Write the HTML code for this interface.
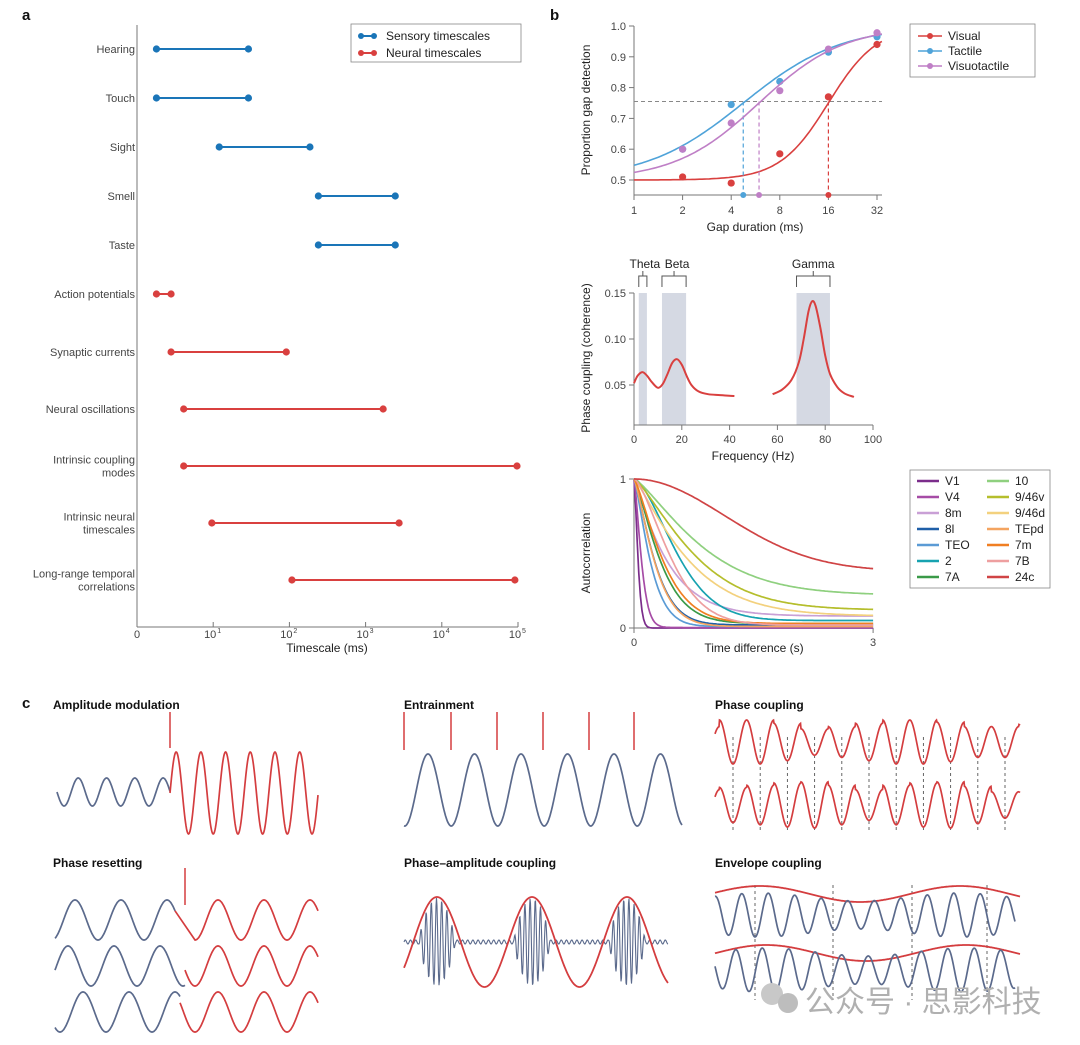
<!DOCTYPE html>
<html><head><meta charset="utf-8">
<style>
html,body{margin:0;padding:0;background:#fff;}
svg{display:block;font-family:"Liberation Sans","Noto Sans CJK SC",sans-serif;}
</style></head>
<body>
<svg id="fig" width="1080" height="1045" viewBox="0 0 1080 1045" xmlns="http://www.w3.org/2000/svg"></svg>
<script>
// ---------- Panel a data ----------
const aCats=['Hearing','Touch','Sight','Smell','Taste','Action potentials','Synaptic currents','Neural oscillations','Intrinsic coupling|modes','Intrinsic neural|timescales','Long-range temporal|correlations'];
const aLow=[1.8,1.8,12,240,240,1.8,2.8,4.1,4.1,9.6,108];
const aHigh=[29,29,186,2450,2450,2.8,91,1700,97000,2750,91000];
const aType=['s','s','s','s','s','n','n','n','n','n','n'];
const aTickExp=[0,1,2,3,4,5];
// ---------- Panel b top data ----------
const gapX=[2,4,8,16,32];
const gapVisual=[0.51,0.49,0.585,0.77,0.94];
const gapTactile=[0.60,0.745,0.82,0.915,0.965];
const gapVisuo=[0.60,0.685,0.79,0.925,0.978];
const gapThresh=[16,4.75,5.95];
const gapSlope=[0.5,1.0,0.87];
const gapXTicks=[1,2,4,8,16,32];
const gapYTicks=[0.5,0.6,0.7,0.8,0.9,1.0];
// ---------- Panel b middle data ----------
const cohFreq1=[0,1.5,3.5,5.5,7.5,10,12,14,16,18,20,22,24,27,31,36,42];
const cohVal1=[0.052,0.060,0.064,0.060,0.053,0.047,0.051,0.062,0.074,0.078,0.072,0.060,0.050,0.043,0.040,0.039,0.038];
const cohFreq2=[58,62,66,69,71,73,74.5,76,78,80,82,85,88,92];
const cohVal2=[0.040,0.045,0.056,0.075,0.100,0.130,0.141,0.136,0.112,0.082,0.062,0.048,0.041,0.037];
const bandLo=[2,11.7,68];
const bandHi=[5.4,21.8,82];
const bandNames=['Theta','Beta','Gamma'];
const cohXTicks=[0,20,40,60,80,100];
const cohYTicks=[0.05,0.10,0.15];
// ---------- Panel b bottom data ----------
const acNames=['V1','V4','8m','8l','TEO','2','7A','10','9/46v','9/46d','TEpd','7m','7B','24c'];
const acTau=[0.06,0.11,0.45,0.3,0.24,0.65,0.38,0.95,0.85,0.75,0.3,0.42,0.55,1.6];
const acBase=[0,0.003,0.08,0.02,0.01,0.05,0.03,0.22,0.12,0.08,0.01,0.03,0.02,0.38];
const acPow=[1.5,1.4,1.1,1.3,1.3,1.6,1.3,1.3,1.3,1.2,1.3,1.3,1.5,2];
const acColors=['#7b2d8b','#a64ca6','#c9a0d6','#1f5fa8','#5b9bd5','#17a2b0','#3a9a48','#8fd07f','#b5be2c','#f3d17e','#f4a460','#f07f22','#ee9fa0','#d04445'];

const NS='http://www.w3.org/2000/svg';
const svg=document.getElementById('fig');
function mk(tag,attrs,parent){const e=document.createElementNS(NS,tag);for(const k in attrs)e.setAttribute(k,attrs[k]);(parent||svg).appendChild(e);return e;}
function txt(s,x,y,size,anchor,parent,extra){const e=mk('text',Object.assign({x:x,y:y,'font-size':size,'text-anchor':anchor||'start',fill:'#333'},extra||{}),parent);e.textContent=s;return e;}
function smooth(pts){let d='M'+pts[0][0].toFixed(1)+','+pts[0][1].toFixed(1);for(let i=0;i<pts.length-1;i++){const p0=pts[i-1]||pts[i],p1=pts[i],p2=pts[i+1],p3=pts[i+2]||p2;const c1=[p1[0]+(p2[0]-p0[0])/6,p1[1]+(p2[1]-p0[1])/6],c2=[p2[0]-(p3[0]-p1[0])/6,p2[1]-(p3[1]-p1[1])/6];d+='C'+c1[0].toFixed(1)+','+c1[1].toFixed(1)+' '+c2[0].toFixed(1)+','+c2[1].toFixed(1)+' '+p2[0].toFixed(1)+','+p2[1].toFixed(1);}return d;}
function poly(pts){return 'M'+pts.map(p=>p[0].toFixed(1)+','+p[1].toFixed(1)).join('L');}
const BLUE='#1a75b8',RED='#d9403f',AX='#777';

let t;
t=txt('a',22,20,15,'start',svg,{'font-weight':'bold',fill:'#111'});


t=txt('b',550,20,15,'start',svg,{'font-weight':'bold',fill:'#111'});


t=txt('c',22,708,15,'start',svg,{'font-weight':'bold',fill:'#111'});



// ================= Panel a =================
const gA=mk('g',{});


const xA=v=>137+76.2*Math.log10(v);
const rowY=i=>i<6?49+49*i:352+57*(i-6);
let ax=mk('line',{x1:137,y1:25,x2:137,y2:627,stroke:AX,'stroke-width':1},gA);


ax=mk('line',{x1:137,y1:627,x2:518,y2:627,stroke:AX,'stroke-width':1},gA);


aTickExp.forEach(e=>{const x=xA(Math.pow(10,e));mk('line',{x1:x,y1:627,x2:x,y2:622,stroke:AX},gA);
 const tl=txt(e===0?'0':'10',x-(e===0?0:3),638,11,'middle',gA,{fill:'#444'});
 
 
 if(e>0){const s=txt(String(e),x+4,633,7,'start',gA,{fill:'#444'});}});
t=txt('Timescale (ms)',327,652,12,'middle',gA,{fill:'#222'});


aCats.forEach((c,i)=>{const y=rowY(i);const lines=c.split('|');const col=aType[i]==='s'?BLUE:RED;
 lines.forEach((l,k)=>{const tl=txt(l,135,y+4+(k-(lines.length-1)/2)*13,11,'end',gA,{fill:'#444'});});
 const g=mk('g',{},gA);
 
 
 mk('line',{x1:xA(aLow[i]),y1:y,x2:xA(aHigh[i]),y2:y,stroke:col,'stroke-width':2},g);
 mk('circle',{cx:xA(aLow[i]),cy:y,r:3.6,fill:col},g);
 mk('circle',{cx:xA(aHigh[i]),cy:y,r:3.6,fill:col},g);});
const legA=mk('g',{},gA);


mk('rect',{x:351,y:24,width:170,height:38,fill:'#fff',stroke:'#888','stroke-width':0.8},legA);
[['Sensory timescales',BLUE,36],['Neural timescales',RED,53]].forEach(([n,c,y])=>{const g=mk('g',{},legA);mk('line',{x1:360,y1:y,x2:375,y2:y,stroke:c,'stroke-width':2},g);mk('circle',{cx:361,cy:y,r:3,fill:c},g);mk('circle',{cx:374,cy:y,r:3,fill:c},g);txt(n,386,y+4,12,'start',g,{fill:'#222'});});

// ================= Panel b top =================
const gB1=mk('g',{});


const xG=v=>634+48.6*Math.log2(v), yG=p=>26+(1-p)*308;
mk('line',{x1:634,y1:26,x2:634,y2:195,stroke:AX},gB1);
mk('line',{x1:634,y1:195,x2:882,y2:195,stroke:AX},gB1);
gapYTicks.forEach(v=>{mk('line',{x1:629,y1:yG(v),x2:634,y2:yG(v),stroke:AX},gB1);const tl=txt(v.toFixed(1),626,yG(v)+4,11,'end',gB1,{fill:'#444'});});
gapXTicks.forEach(v=>{mk('line',{x1:xG(v),y1:195,x2:xG(v),y2:200,stroke:AX},gB1);const tl=txt(String(v),xG(v),214,11,'middle',gB1,{fill:'#444'});});
t=txt('Gap duration (ms)',755,231,12,'middle',gB1,{fill:'#222'});


t=txt('Proportion gap detection',0,0,12,'middle',gB1,{fill:'#222',transform:'translate(590,110) rotate(-90)'});


mk('line',{x1:634,y1:yG(0.755),x2:882,y2:yG(0.755),stroke:'#888','stroke-dasharray':'4,3'},gB1);
const gapCols=['#d9403f','#4fa3d9','#bf7fc6'];
const gapData=[gapVisual,gapTactile,gapVisuo];
const gapNames=['visual','tactile','visuotactile'];
const logistic=(v,i)=>0.5+0.5/(1+Math.exp(-(Math.log2(v)-Math.log2(gapThresh[i]))/gapSlope[i]));
gapData.forEach((arr,i)=>{const g=mk('g',{},gB1);
 const pts=[];for(let l=0;l<=5.1;l+=0.05){const v=Math.pow(2,l);pts.push([xG(v),yG(logistic(v,i))]);}
 mk('path',{d:poly(pts),fill:'none',stroke:gapCols[i],'stroke-width':1.6},g);
 const tx=xG(gapThresh[i]);mk('line',{x1:tx,y1:yG(0.755),x2:tx,y2:195,stroke:gapCols[i],'stroke-dasharray':'4,3','stroke-width':1.2},g);
 mk('circle',{cx:tx,cy:195,r:3,fill:gapCols[i]},g);
 arr.forEach((p,k)=>mk('circle',{cx:xG(gapX[k]),cy:yG(p),r:3.6,fill:gapCols[i]},g));});
const legB=mk('g',{},gB1);


mk('rect',{x:910,y:24,width:125,height:53,fill:'#fff',stroke:'#888','stroke-width':0.8},legB);
['Visual','Tactile','Visuotactile'].forEach((n,i)=>{const y=36+15*i;const g=mk('g',{},legB);mk('line',{x1:918,y1:y,x2:942,y2:y,stroke:gapCols[i],'stroke-width':1.5},g);mk('circle',{cx:930,cy:y,r:3,fill:gapCols[i]},g);txt(n,948,y+4,12,'start',g,{fill:'#222'});});

// ================= Panel b middle =================
const gB2=mk('g',{});


const xF=f=>634+2.39*f, yC=c=>385-(c-0.05)*920;
bandLo.forEach((lo,i)=>{const r=mk('rect',{x:xF(lo),y:yC(0.15),width:xF(bandHi[i])-xF(lo),height:425-yC(0.15),fill:'#d5d9e3'},gB2);
 const x0=xF(lo),x1=xF(bandHi[i]),xm=(x0+x1)/2;mk('path',{d:`M${x0},287V276H${x1}V287M${xm},276V271`,fill:'none',stroke:'#555'},gB2);});
bandNames.forEach((n,i)=>{const xm=(xF(bandLo[i])+xF(bandHi[i]))/2;const tl=txt(n,xm+(i===0?2:i===1?3:0),268,12,'middle',gB2,{fill:'#222'});});
mk('line',{x1:634,y1:293,x2:634,y2:425,stroke:AX},gB2);
mk('line',{x1:634,y1:425,x2:873,y2:425,stroke:AX},gB2);
cohYTicks.forEach(v=>{mk('line',{x1:629,y1:yC(v),x2:634,y2:yC(v),stroke:AX},gB2);const tl=txt(v.toFixed(2),626,yC(v)+4,11,'end',gB2,{fill:'#444'});});
cohXTicks.forEach(v=>{mk('line',{x1:xF(v),y1:425,x2:xF(v),y2:430,stroke:AX},gB2);const tl=txt(String(v),xF(v),443,11,'middle',gB2,{fill:'#444'});});
t=txt('Frequency (Hz)',753,460,12,'middle',gB2,{fill:'#222'});


t=txt('Phase coupling (coherence)',0,0,12,'middle',gB2,{fill:'#222',transform:'translate(590,358) rotate(-90)'});


let p=mk('path',{d:smooth(cohFreq1.map((f,i)=>[xF(f),yC(cohVal1[i])])),fill:'none',stroke:RED,'stroke-width':2},gB2);


p=mk('path',{d:smooth(cohFreq2.map((f,i)=>[xF(f),yC(cohVal2[i])])),fill:'none',stroke:RED,'stroke-width':2},gB2);



// ================= Panel b bottom =================
const gB3=mk('g',{});


const xT=s=>634+79.7*s, yR=r=>628-149*r;
mk('line',{x1:634,y1:479,x2:634,y2:628,stroke:AX},gB3);
mk('line',{x1:634,y1:628,x2:873,y2:628,stroke:AX},gB3);
[0,1].forEach(v=>{mk('line',{x1:629,y1:yR(v),x2:634,y2:yR(v),stroke:AX},gB3);const tl=txt(String(v),626,yR(v)+4,11,'end',gB3,{fill:'#444'});});
[0,3].forEach(v=>{mk('line',{x1:xT(v),y1:628,x2:xT(v),y2:633,stroke:AX},gB3);const tl=txt(String(v),xT(v),646,11,'middle',gB3,{fill:'#444'});});
t=txt('Time difference (s)',754,652,12,'middle',gB3,{fill:'#222'});


t=txt('Autocorrelation',0,0,12,'middle',gB3,{fill:'#222',transform:'translate(590,553) rotate(-90)'});


acNames.forEach((n,i)=>{const pts=[];for(let s=0;s<=3.0001;s+=0.02){pts.push([xT(s),yR(acBase[i]+(1-acBase[i])*Math.exp(-Math.pow(s/acTau[i],acPow[i])))]);}
 const pa=mk('path',{d:poly(pts),fill:'none',stroke:acColors[i],'stroke-width':1.7},gB3);
 
 });
const legC=mk('g',{},gB3);


mk('rect',{x:910,y:470,width:140,height:118,fill:'#fff',stroke:'#888','stroke-width':0.8},legC);
acNames.forEach((n,i)=>{const col=i<7?0:1;const r=i%7;const x=917+col*70,y=481+r*16;const g=mk('g',{},legC);mk('line',{x1:x,y1:y,x2:x+22,y2:y,stroke:acColors[i],'stroke-width':2.5},g);txt(n,x+28,y+4,12,'start',g,{fill:'#222'});});

// ================= Panel c =================
const gC=mk('g',{});


const WB='#5b6a8c', WR='#d43d3f';
function wavePts(x0,x1,fn){const a=[];for(let x=x0;x<=x1;x+=0.5)a.push([x,fn(x)]);return a;}
function wpath(pts,col,parent,w){return mk('path',{d:poly(pts),fill:'none',stroke:col,'stroke-width':w||1.7},parent);}
function title(s,x,y,nm){const tl=txt(s,x,y,12,'start',gC,{'font-weight':'bold',fill:'#111'});}
const TAU=Math.PI*2;
let g;
title('Amplitude modulation',53,709,'amplitude-modulation-title');
g=mk('g',{},gC);


wpath(wavePts(57,170,x=>792+14*Math.sin(TAU*(x-57)/28.3)),WB,g);
wpath(wavePts(170,318,x=>793-41*Math.sin(TAU*(x-170)/24.7)),WR,g);
mk('line',{x1:170,y1:712,x2:170,y2:748,stroke:WR,'stroke-width':1.5},g);
title('Entrainment',404,709,'entrainment-title');
g=mk('g',{},gC);


[404,451,497,543,589,634].forEach(x=>mk('line',{x1:x,y1:712,x2:x,y2:750,stroke:WR,'stroke-width':1.5},g));
wpath(wavePts(404,682,x=>790-36*Math.cos(TAU*(x-428)/46.5)),WB,g);
title('Phase coupling',715,709,'phase-coupling-title');
g=mk('g',{},gC);


const pcA1=[0.7,1,1,0.85,0.6,0.7,0.85,1,1,0.9,0.7,0.7,0.8];
const pcA2=[0.7,0.8,0.9,1,1.05,0.9,0.7,0.9,1,1.05,0.85,0.6,0.6];
const pcX=[];for(let k=0;k<11;k++)pcX.push(733+27.2*k);
pcX.forEach(x=>mk('line',{x1:x,y1:737,x2:x,y2:830,stroke:'#555','stroke-dasharray':'3,3','stroke-width':0.9},g));
[[742,pcA1],[805,pcA2]].forEach(([cy,am])=>{wpath(wavePts(715,1020,x=>{const u=(x-733)/27.2+1;const k=Math.max(0,Math.min(am.length-1,Math.round(u)));return cy+22*am[k]*Math.cos(TAU*(x-733)/27.2);}),WR,g);});
title('Phase resetting',53,867,'phase-resetting-title');
g=mk('g',{},gC);


mk('line',{x1:185,y1:868,x2:185,y2:905,stroke:WR,'stroke-width':1.5},g);
[[920,75,175],[966,68,185],[1012,83,180]].forEach(([cy,pk,cut],r)=>{
 wpath(wavePts(55,cut,x=>cy-20*Math.cos(TAU*(x-pk)/46)),WB,g);
 const yc=cy-20*Math.cos(TAU*(cut-pk)/46);
 const rp=wavePts(r===0?195:cut,318,x=>cy-20*Math.cos(TAU*(x-218)/46));
 if(r===0)rp.unshift([cut,yc]);
 wpath(rp,WR,g);});
title('Phase\u2013amplitude coupling',404,867,'phase-amplitude-coupling-title');
g=mk('g',{},gC);


wpath(wavePts(404,668,x=>{const c=Math.cos(TAU*(x-437)/95);const env=c>0.35?44*Math.pow((c-0.35)/0.65,0.8):2;return 942-env*Math.sin(TAU*(x-404)/5.2);}),WB,g,1.1);
wpath(wavePts(404,668,x=>942-45*Math.cos(TAU*(x-437)/95)),WR,g,1.8);
title('Envelope coupling',715,867,'envelope-coupling-title');
g=mk('g',{},gC);


[755,833,912,987].forEach(x=>mk('line',{x1:x,y1:885,x2:x,y2:1000,stroke:'#555','stroke-dasharray':'3,3','stroke-width':0.9},g));
[[915,886,0],[970,945,6]].forEach(([cy,ey,sh])=>{
 const env=x=>ey+8-8*Math.cos(TAU*(x-760-sh)/200);
 wpath(wavePts(715,1020,env),WR,g,1.8);
 wpath(wavePts(715,1015,x=>cy+(22-0.5*(env(x)-ey))*Math.cos(TAU*(x-755+sh)/26.5)),WB,g);});

const wm=mk('g',{});


mk('circle',{cx:772,cy:994,r:11,fill:'#c8c8c8'},wm);
mk('circle',{cx:788,cy:1003,r:10,fill:'#bdbdbd'},wm);
txt('公众号 · 思影科技',805,1012,30,'start',wm,{fill:'#b0b0b0'});
</script>
</body></html>
